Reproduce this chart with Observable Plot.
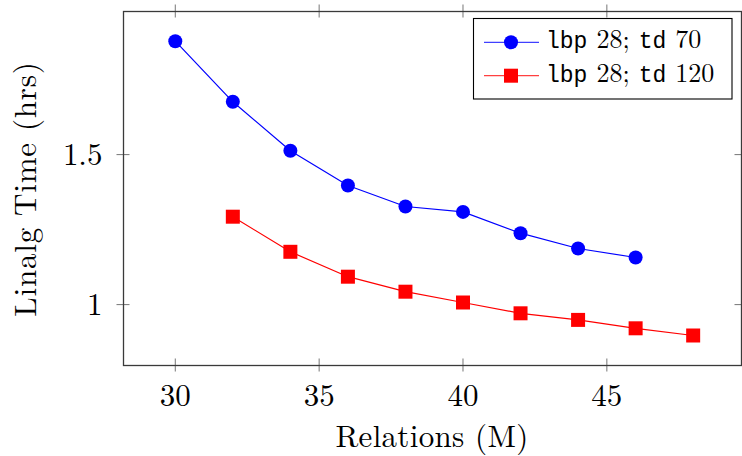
<!DOCTYPE html>
<html>
<head>
<meta charset="utf-8">
<script src="https://cdn.jsdelivr.net/npm/d3@7"></script>
<script src="https://cdn.jsdelivr.net/npm/@observablehq/plot@0.6"></script>
<style>
  html, body { margin: 0; padding: 0; background: #fff; }
  svg { display: block; }
</style>
</head>
<body>
<div id="chart"></div>
<script>
// ---- data ----
const relationsTd70 = [30, 32, 34, 36, 38, 40, 42, 44, 46];
const timeTd70 = [1.878, 1.676, 1.513, 1.397, 1.327, 1.309, 1.238, 1.187, 1.157];
const relationsTd120 = [32, 34, 36, 38, 40, 42, 44, 46, 48];
const timeTd120 = [1.293, 1.176, 1.093, 1.043, 1.007, 0.971, 0.949, 0.921, 0.897];
const xTicks = [30, 35, 40, 45];
const yTicks = [1, 1.5];
const yTickLabels = ["1", "1.5"];
const xLabel = "Relations (M)";
const yLabel = "Linalg Time (hrs)";
const seriesNames = [["lbp", "28;", "td", "70"], ["lbp", "28;", "td", "120"]];

const s70 = relationsTd70.map((x, i) => ({x, y: timeTd70[i]}));
const s120 = relationsTd120.map((x, i) => ({x, y: timeTd120[i]}));

const xDom = [28.2, 49.68];
const yDom = [0.797, 1.977];
const serif = "'Latin Modern Roman', 'Liberation Serif', 'Times New Roman', serif";
const mono = "'Liberation Mono', 'DejaVu Sans Mono', monospace";
const axisCol = "#3a3a3a";

const svg = Plot.plot({
  width: 742,
  height: 456,
  marginLeft: 123,
  marginRight: 1,
  marginTop: 11,
  marginBottom: 91,
  style: {background: "#fff", fontFamily: serif, overflow: "visible"},
  x: {domain: xDom},
  y: {domain: yDom},
  marks: [
    // tick marks crossing the frame on all four sides
    Plot.ruleX(xTicks, {x: d => d, y1: yDom[0], y2: yDom[0], insetTop: -6.5, insetBottom: -6.5, stroke: "#666", strokeWidth: 0.9}),
    Plot.ruleX(xTicks, {x: d => d, y1: yDom[1], y2: yDom[1], insetTop: -6.5, insetBottom: -6.5, stroke: "#666", strokeWidth: 0.9}),
    Plot.ruleY(yTicks, {y: d => d, x1: xDom[0], x2: xDom[0], insetLeft: -6.5, insetRight: -6.5, stroke: "#666", strokeWidth: 0.9}),
    Plot.ruleY(yTicks, {y: d => d, x1: xDom[1], x2: xDom[1], insetLeft: -6.5, insetRight: -6.5, stroke: "#666", strokeWidth: 0.9}),
    Plot.frame({stroke: axisCol, strokeWidth: 1.3}),
    Plot.axisX({ticks: xTicks, tickSize: 0, tickPadding: 18, fontSize: 31, label: null, fill: "#000", fontFamily: serif}),
    Plot.axisY({ticks: yTicks, tickFormat: (d) => yTickLabels[yTicks.indexOf(d)], tickSize: 0, tickPadding: 21, fontSize: 31, label: null, fill: "#000", fontFamily: serif}),
    Plot.line(s70, {x: "x", y: "y", stroke: "#0000ff", strokeWidth: 1.2}),
    Plot.dot(s70, {x: "x", y: "y", r: 7, fill: "#0000ff", stroke: null, symbol: "circle"}),
    Plot.line(s120, {x: "x", y: "y", stroke: "#ff0000", strokeWidth: 1.2}),
    Plot.dot(s120, {x: "x", y: "y", r: 7.9, fill: "#ff0000", stroke: null, symbol: "square"})
  ]
});

const g = d3.select(svg);
// axis titles
g.append("text").attr("x", 432).attr("y", 447).attr("text-anchor", "middle")
  .attr("font-family", serif).attr("font-size", 31).attr("letter-spacing", 0.3).attr("fill", "#000").text(xLabel);
g.append("text").attr("transform", "translate(36,189) rotate(-90)").attr("text-anchor", "middle")
  .attr("font-family", serif).attr("font-size", 31).attr("letter-spacing", 0.8).attr("fill", "#000").text(yLabel);

// legend
const lg = g.append("g").attr("text-anchor", "start");
lg.append("rect").attr("x", 473.5).attr("y", 18.5).attr("width", 258.5).attr("height", 80.5)
  .attr("fill", "#fff").attr("stroke", "#000").attr("stroke-width", 1.1);
const rows = [{y: 42.3, base: 48, color: "#0000ff", shape: "circle"}, {y: 75.7, base: 81.5, color: "#ff0000", shape: "square"}];
rows.forEach((r, i) => {
  lg.append("line").attr("x1", 484).attr("x2", 539).attr("y1", r.y).attr("y2", r.y)
    .attr("stroke", r.color).attr("stroke-width", 1.2).attr("stroke-opacity", 0.75);
  if (r.shape === "circle") {
    lg.append("circle").attr("cx", 511).attr("cy", r.y).attr("r", 7).attr("fill", r.color);
  } else {
    lg.append("rect").attr("x", 504).attr("y", r.y - 7).attr("width", 14).attr("height", 14).attr("fill", r.color);
  }
  const t = lg.append("text").attr("x", 546).attr("y", r.base).attr("fill", "#000")
    .attr("text-anchor", "start");
  const parts = seriesNames[i];
  parts.forEach((p, j) => {
    t.append("tspan").attr("font-family", j % 2 === 0 ? mono : serif)
      .attr("dx", j === 0 ? 0 : 9)
      .attr("font-size", j % 2 === 0 ? 23 : 26).text(p);
  });
});

document.getElementById("chart").appendChild(svg);
</script>
</body>
</html>
